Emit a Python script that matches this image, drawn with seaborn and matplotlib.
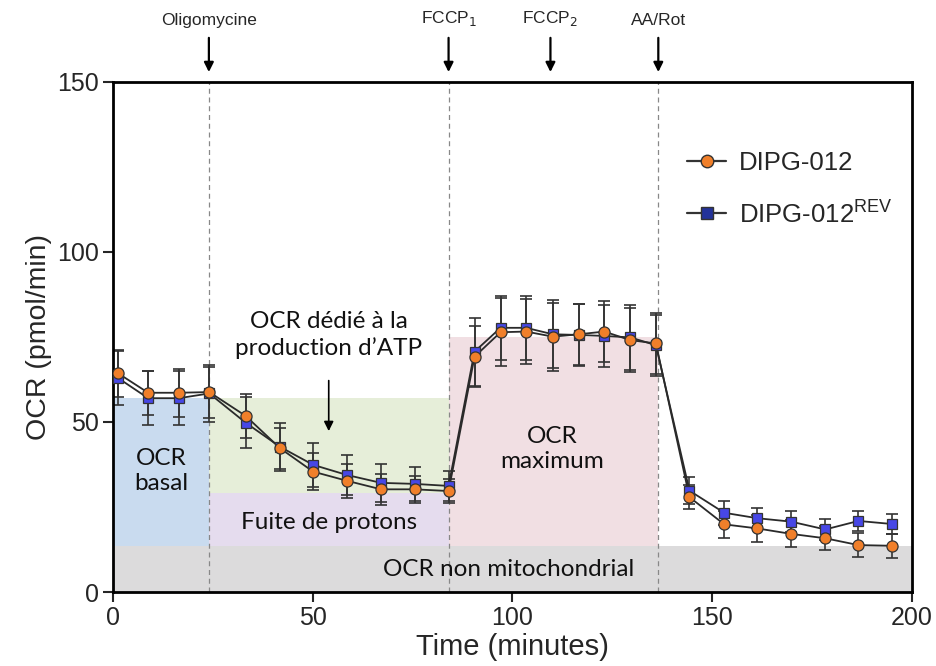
import numpy as np
import pandas as pd
import matplotlib
matplotlib.use("Agg")
import matplotlib.pyplot as plt
from matplotlib.lines import Line2D
import seaborn as sns

# measurement times (minutes)
times = [1.3, 8.8, 16.5, 24.1, 33.2, 41.8, 50.1, 58.6, 67.1, 75.5, 84.0,
         90.5, 97.0, 103.4, 110.1, 116.6, 123.0, 129.4, 135.9,
         144.3, 153.0, 161.3, 169.7, 178.3, 186.6, 195.0]

# OCR (pmol/min) per cell line
ocr_dipg = [64.3, 58.6, 58.6, 58.8, 51.8, 42.3, 35.4, 32.7, 30.2, 30.2, 29.7,
            69.2, 76.4, 76.6, 75.1, 75.8, 76.6, 74.1, 73.1,
            27.9, 19.9, 18.7, 17.1, 15.8, 13.8, 13.6]
ocr_rev = [62.9, 57.0, 57.0, 58.4, 49.8, 42.7, 37.4, 34.4, 32.1, 31.8, 31.2,
           70.7, 77.7, 77.7, 75.8, 75.6, 75.3, 74.9, 72.6,
           29.8, 23.3, 21.7, 20.7, 18.4, 20.9, 20.0]
sd_dipg = [7, 6.5, 7, 7.5, 6.5, 6, 5.5, 5, 4.5, 4, 3.5,
           9, 10, 9.5, 10, 9, 9, 9.5, 9,
           3.5, 4, 4, 4, 3.5, 3.5, 3.5]
sd_rev = [8, 8, 8, 8.5, 7.5, 7, 6.5, 6, 5.5, 5, 4.5,
          10, 9.5, 9.5, 10, 9, 9, 9.5, 9,
          4, 3.5, 3, 3, 3, 3, 3]

# injections
inject_times = [24, 84, 109.5, 136.5]
inject_labels = ["Oligomycine", "FCCP$_1$", "FCCP$_2$", "AA/Rot"]

# levels used for the shaded compartments
non_mito = 13.5
proton_leak = 29
basal = 57
maximal = 75

df = pd.concat([
    pd.DataFrame({"time": times, "ocr": ocr_dipg, "sd": sd_dipg, "line": "DIPG-012"}),
    pd.DataFrame({"time": times, "ocr": ocr_rev, "sd": sd_rev, "line": "DIPG-012REV"}),
])

sns.set_style("ticks")
plt.rcParams['font.family'] = ['Liberation Sans', 'DejaVu Sans']

fig = plt.figure(figsize=(9.37, 6.66), dpi=100)
ax = fig.add_axes([0.1206, 0.1111, 0.8527, 0.7658])

# shaded compartments
ax.fill_between([0, 200], 0, non_mito, color="#dcdbdc", lw=0, zorder=0)
ax.fill_between([0, inject_times[0]], non_mito, basal, color="#c9dbef", lw=0, zorder=0)
ax.fill_between([inject_times[0], inject_times[1]], proton_leak, basal, color="#e6eed9", lw=0, zorder=0)
ax.fill_between([inject_times[0], inject_times[1]], non_mito, proton_leak, color="#e5dcee", lw=0, zorder=0)
ax.fill_between([inject_times[1], inject_times[3]], non_mito, maximal, color="#f1dfe3", lw=0, zorder=0)

for t in [inject_times[0], inject_times[1], inject_times[3]]:
    ax.axvline(t, color="#888888", ls=(0, (4, 3)), lw=0.9, zorder=1)

styles = {
    "DIPG-012REV": dict(marker="s", color="#4747e6", size=7.5),
    "DIPG-012": dict(marker="o", color="#f07f2a", size=8),
}
for name in ["DIPG-012REV", "DIPG-012"]:
    sub = df[df["line"] == name]
    st = styles[name]
    ax.errorbar(sub["time"], sub["ocr"], yerr=sub["sd"], fmt="none",
                ecolor="#333333", elinewidth=1.2, capsize=4.5, capthick=1.2, zorder=2)
    sns.lineplot(data=sub, x="time", y="ocr", color="#2a2a2a", lw=1.3,
                 ax=ax, zorder=3, legend=False)
    ax.plot(sub["time"], sub["ocr"], ls="none", marker=st["marker"],
            markersize=st["size"], markerfacecolor=st["color"],
            markeredgecolor="#333333", markeredgewidth=0.9, zorder=4)

ax.set_xlim(0, 200)
ax.set_ylim(0, 150)
ax.set_xticks([0, 50, 100, 150, 200])
ax.set_yticks([0, 50, 100, 150])
ax.tick_params(labelsize=18, width=1.5, length=7, direction="out", pad=3)
for s in ax.spines.values():
    s.set_linewidth(2)
    s.set_color("black")
ax.set_xlabel("Time (minutes)", fontsize=21, labelpad=2)
ax.set_ylabel("OCR (pmol/min)", fontsize=20.5, labelpad=4)

# injection arrows above the frame
trans = ax.get_xaxis_transform()
for t, lab in zip(inject_times, inject_labels):
    ax.annotate("", xy=(t, 1.014), xytext=(t, 1.092), xycoords=trans,
                textcoords=trans,
                arrowprops=dict(arrowstyle="-|>", color="black", lw=1.6,
                                mutation_scale=14))
    ax.text(t, 1.105, lab, transform=trans, ha="center", va="bottom", fontsize=12.5)

# compartment labels
ann = dict(family=["Lato", "DejaVu Sans"], fontsize=17.5, color="#111111", ha="center", va="center")
ax.text(12, 35.5, "OCR\nbasal", linespacing=1.25, **ann)
ax.text(54, 75.5, "OCR dédié à la\nproduction d’ATP", linespacing=1.3, **ann)
ax.annotate("", xy=(54, 46.5), xytext=(54, 63),
            arrowprops=dict(arrowstyle="-|>", color="black", lw=1.2, mutation_scale=14))
ax.text(54, 20.5, "Fuite de protons", **ann)
ax.text(110, 42, "OCR\nmaximum", linespacing=1.25, **ann)
ax.text(99, 6.5, "OCR non mitochondrial", **ann)

handles = [
    Line2D([], [], color="#333333", lw=1.6, marker="o", markersize=9,
           markerfacecolor="#f07f2a", markeredgecolor="#333333"),
    Line2D([], [], color="#333333", lw=1.6, marker="s", markersize=8.5,
           markerfacecolor="#23329a", markeredgecolor="#333333"),
]
ax.legend(handles, ["DIPG-012", "DIPG-012$^{\\mathregular{REV}}$"], loc="upper left",
          bbox_to_anchor=(0.69, 0.91), frameon=False, fontsize=18.5,
          handlelength=1.5, labelspacing=0.95, handletextpad=0.5)

fig.savefig("out.png", dpi=100)
